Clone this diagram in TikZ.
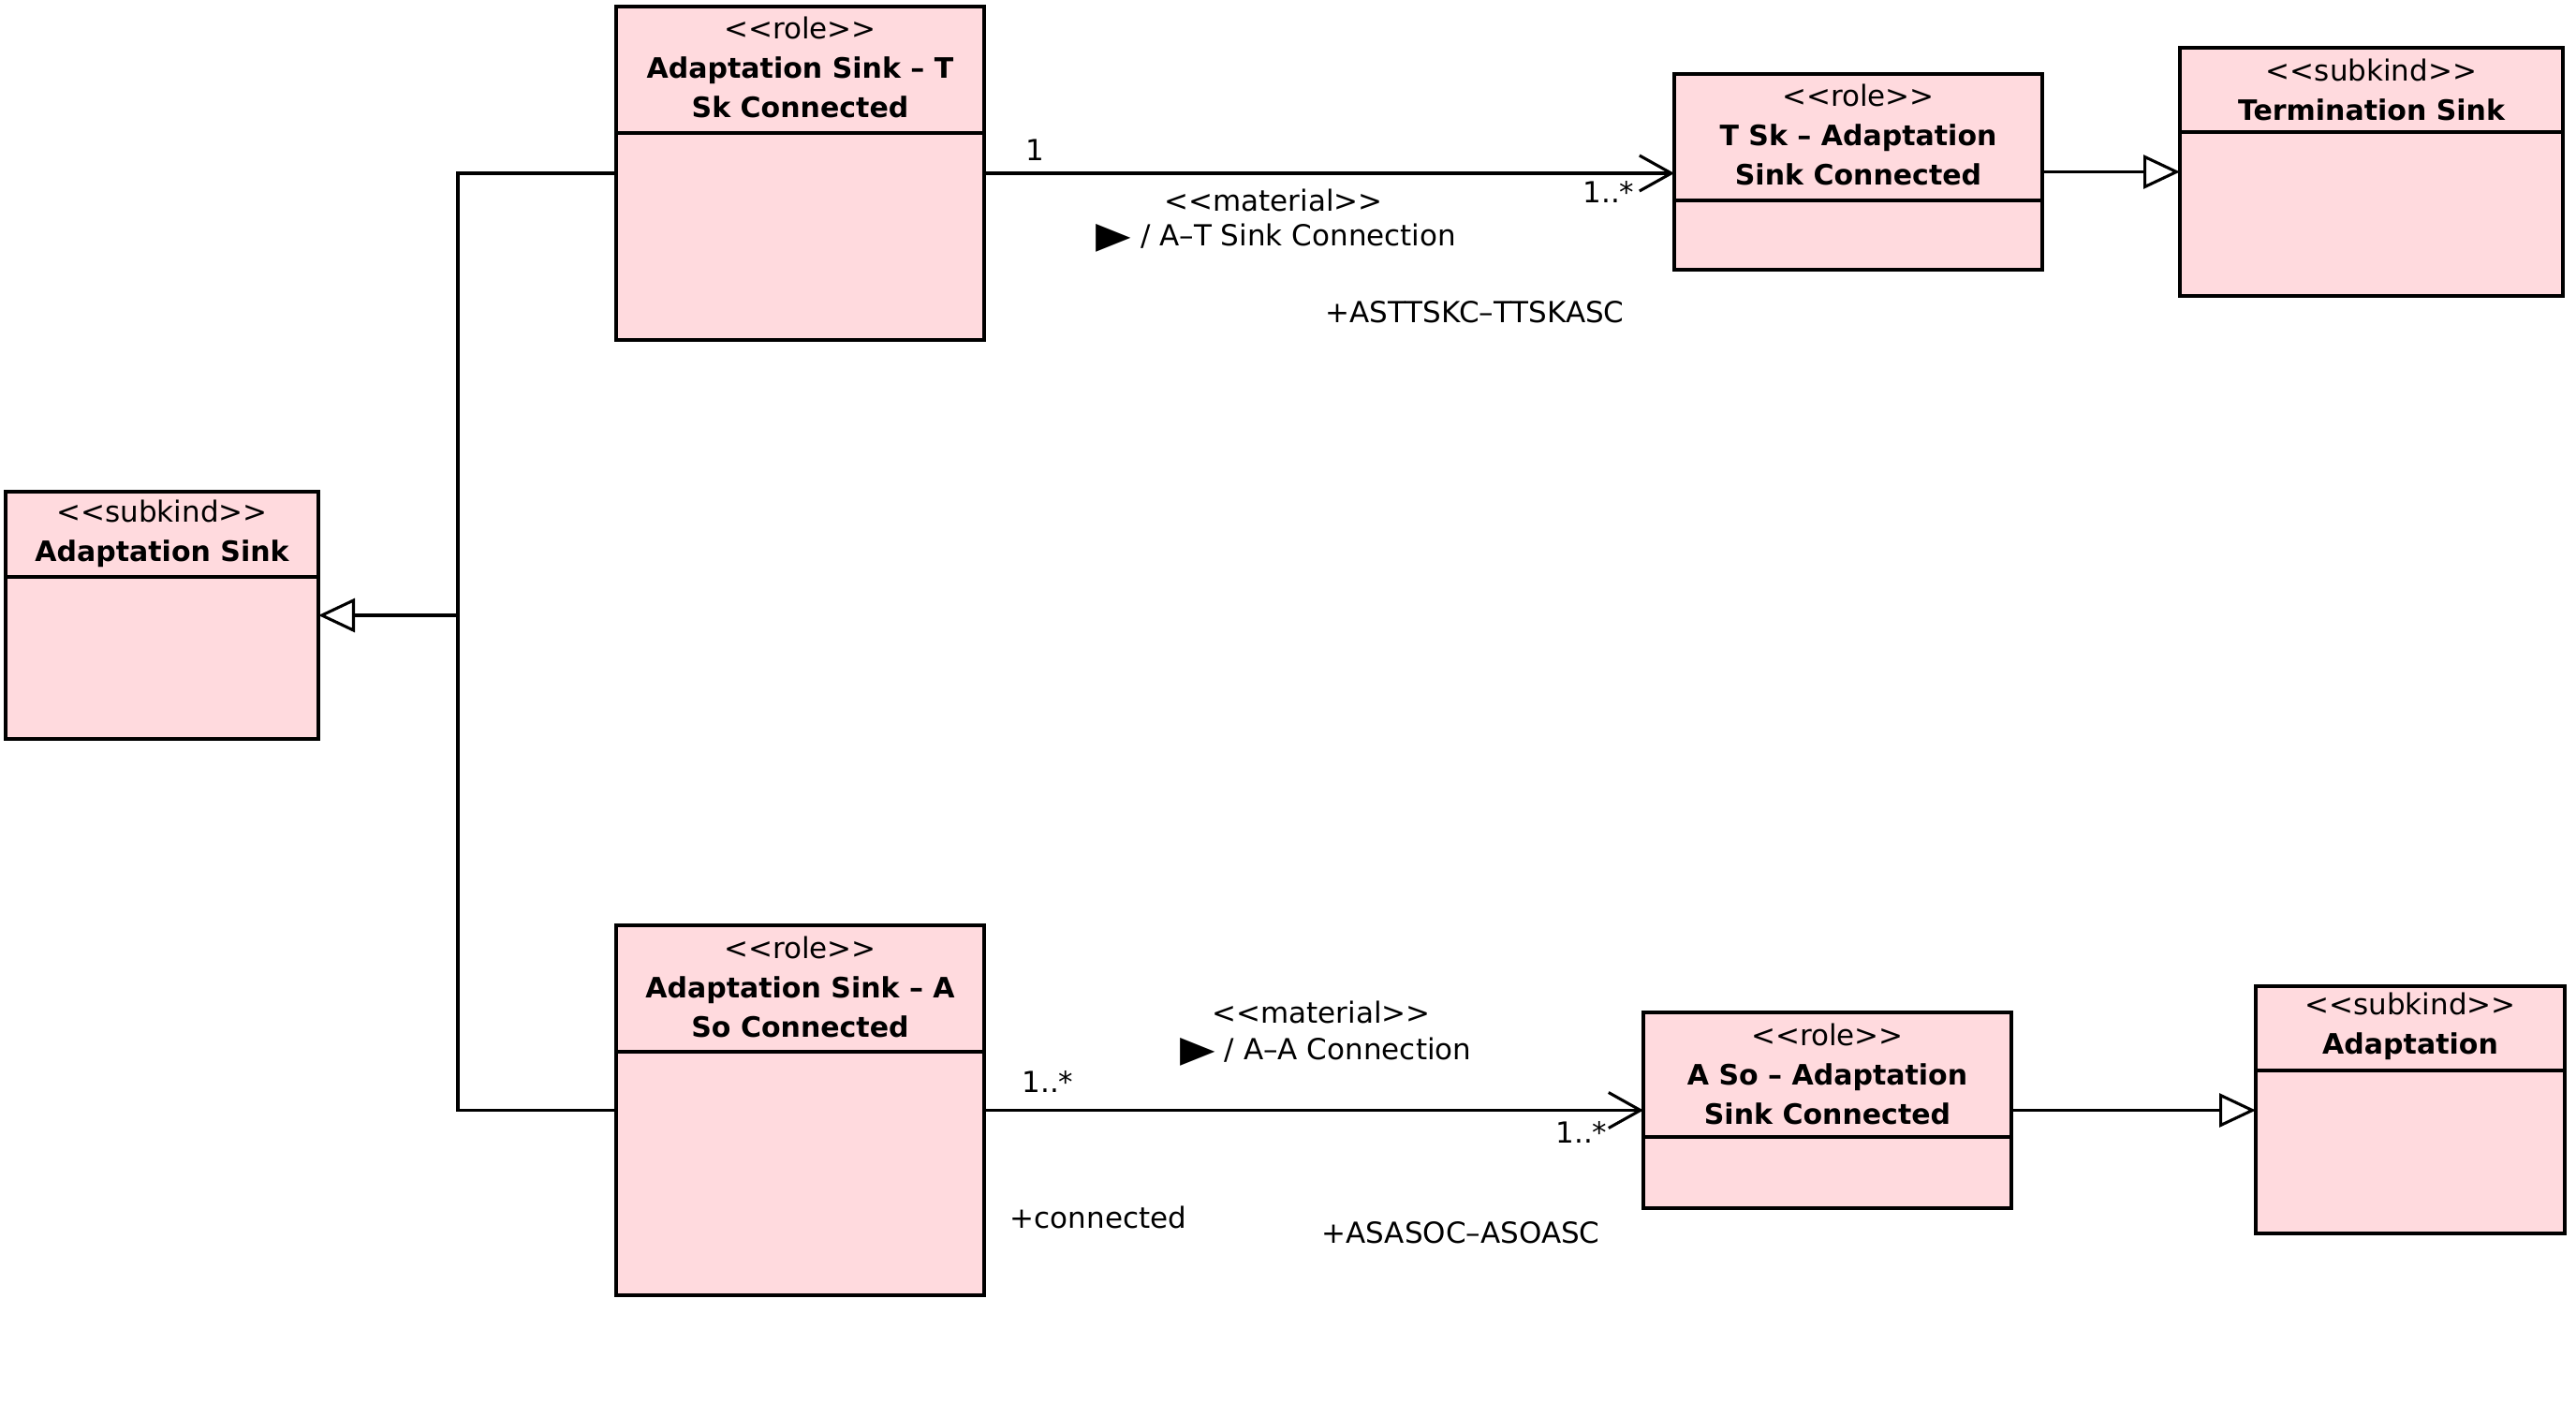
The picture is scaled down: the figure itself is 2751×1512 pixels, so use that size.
\documentclass[tikz,border=0pt]{standalone}
\usepackage{fontspec}
\usepackage{graphicx}
\setmainfont{DejaVu Sans}
\usetikzlibrary{arrows.meta}
\definecolor{umlpink}{RGB}{255,218,222}
\newcommand\stereo[1]{<{}<#1>{}>}
\newcommand\clsname[1]{{\fontsize{30}{42}\selectfont\bfseries #1}}
\newcommand\navtri{\raisebox{-2pt}{\scalebox{1.25}[1]{\fontsize{39}{40}\selectfont ▶}}}
\begin{document}
\begin{tikzpicture}[x=1pt,y=-1pt,
  cls/.style={draw=black, fill=umlpink, line width=3.1pt, anchor=north west, inner sep=0pt, outer sep=0pt},
  hdr/.style={align=center, font=\fontsize{31}{42}\selectfont, inner sep=0pt},
  lbl/.style={font=\fontsize{31}{38}\selectfont, inner sep=0pt},
  conn/.style={line width=3.1pt},
  gen/.style={conn, -{Triangle[open, length=39pt, width=36pt, fill=white]}},
  nav/.style={conn, -{Straight Barb[length=34pt, width=38pt]}},
  sepl/.style={line width=3.1pt}]
\useasboundingbox (0,0) rectangle (2751,1512);

% class boxes
\node[cls, minimum width=393pt, minimum height=356pt] (A1) at (658,7) {};
\node[cls, minimum width=393pt, minimum height=209pt] (TSk) at (1788,79) {};
\node[cls, minimum width=409pt, minimum height=265pt] (TS) at (2328,51) {};
\node[cls, minimum width=334pt, minimum height=264pt] (AS) at (6,525) {};
\node[cls, minimum width=393pt, minimum height=395pt] (A2) at (658,988) {};
\node[cls, minimum width=393pt, minimum height=209pt] (ASo) at (1755,1081) {};
\node[cls, minimum width=330pt, minimum height=264pt] (AD) at (2409,1053) {};

% compartment separators
\draw[sepl] (658,142) -- (1051,142);
\draw[sepl] (1788,214) -- (2181,214);
\draw[sepl] (2328,141) -- (2737,141);
\draw[sepl] (6,616) -- (340,616);
\draw[sepl] (658,1123) -- (1051,1123);
\draw[sepl] (1755,1214) -- (2148,1214);
\draw[sepl] (2409,1143) -- (2739,1143);

% headers
\node[hdr] (A1h) at (854.5,72) {\stereo{role}\\\clsname{Adaptation Sink – T}\\\clsname{Sk Connected}};
\node[hdr] (TSkh) at (1984.5,144) {\stereo{role}\\\clsname{T Sk – Adaptation}\\\clsname{Sink Connected}};
\node[hdr] (TSh) at (2532.5,96) {\stereo{subkind}\\\clsname{Termination Sink}};
\node[hdr] (ASh) at (173,570) {\stereo{subkind}\\\clsname{Adaptation Sink}};
\node[hdr] (A2h) at (854.5,1054) {\stereo{role}\\\clsname{Adaptation Sink – A}\\\clsname{So Connected}};
\node[hdr] (ASoh) at (1951.5,1147) {\stereo{role}\\\clsname{A So – Adaptation}\\\clsname{Sink Connected}};
\node[hdr] (ADh) at (2574,1096) {\stereo{subkind}\\\clsname{Adaptation}};

% generalization tree
\coordinate (jn) at (489,657);
\draw[conn] (A1.west) -- (A1.west -| jn) -- (A2.west -| jn) -- (A2.west);
\draw[gen] (jn) -- (AS.east);

% associations
\draw[nav] (A1.east) -- (A1.east -| TSk.west);
\draw[gen] (TSk.east) -- (TSk.east -| TS.west);
\draw[nav] (A2.east) -- (A2.east -| ASo.west);
\draw[gen] (ASo.east) -- (ASo.east -| AD.west);

% association labels (top)
\node[lbl] (m1) at (1105,160) {1};
\node[lbl] (m2) at (1718,205) {1..*};
\node[lbl] (s1) at (1360,214) {\stereo{material}};
\node[lbl] (n1) at (1363,254) {\navtri{} / A–T Sink Connection};
\node[lbl] (r1) at (1575,333) {+ASTTSKC–TTSKASC};

% association labels (bottom)
\node[lbl] (m3) at (1119,1155) {1..*};
\node[lbl] (m4) at (1689,1209) {1..*};
\node[lbl] (s2) at (1411,1081) {\stereo{material}};
\node[lbl] (n2) at (1416,1123) {\navtri{} / A–A Connection};
\node[lbl] (r2) at (1173,1300) {+connected};
\node[lbl] (r3) at (1560,1316) {+ASASOC–ASOASC};
\end{tikzpicture}
\end{document}
